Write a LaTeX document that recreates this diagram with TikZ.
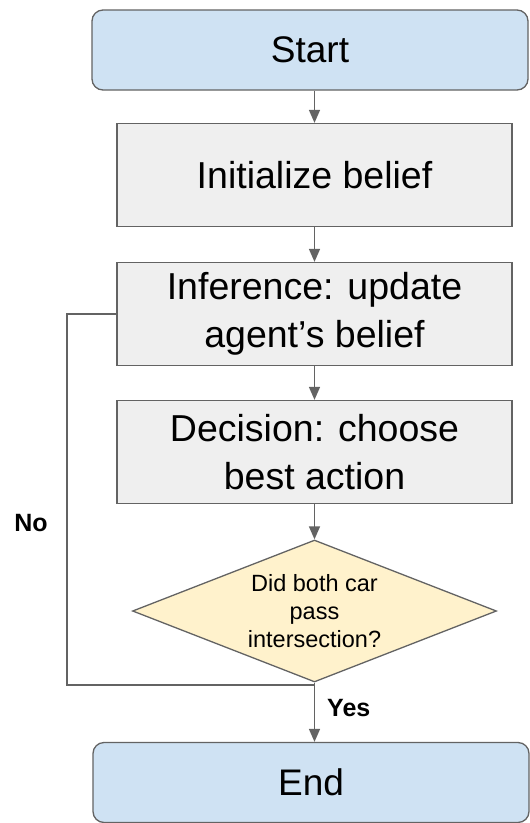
\documentclass[tikz,border=0pt]{standalone}
\usepackage{fontspec}
\setmainfont{Liberation Sans}
\usetikzlibrary{shapes.geometric,arrows.meta}
\definecolor{lineclr}{HTML}{636363}
\definecolor{termfill}{HTML}{CFE2F3}
\definecolor{procfill}{HTML}{EFEFEF}
\definecolor{decfill}{HTML}{FFF2CC}
\begin{document}
\begin{tikzpicture}[x=1pt,y=-1pt,
  base/.style={draw=lineclr, line width=1.3pt, align=center, inner sep=0pt},
  term/.style={base, fill=termfill, rounded corners=11pt, minimum width=436pt, minimum height=80pt,
     font=\fontsize{37}{46}\selectfont},
  proc/.style={base, fill=procfill, minimum width=395pt, minimum height=103pt,
     font=\fontsize{37.5}{47.5}\selectfont},
  dec/.style={base, fill=decfill, diamond, aspect=2.56, minimum width=364pt, minimum height=142pt,
     font=\fontsize{23.5}{28}\selectfont},
  conn/.style={draw=lineclr, line width=1.5pt},
  arr/.style={conn, -{Triangle[width=11pt,length=13pt]}},
  lbl/.style={font=\bfseries\fontsize{25}{28}\selectfont, inner sep=0pt}
]
\useasboundingbox (0,0) rectangle (530,823);
\node[term] (start) at (310,50) {Start};
\node[proc] (init) at (314.5,175) {Initialize belief};
\node[proc] (inf) at (314.5,314) {Inference: update\\agent’s belief};
\node[proc] (decn) at (314.5,452) {Decision: choose\\best action};
\node[dec] (dia) at (314.5,611) {Did both car\\pass\\intersection?};
\node[term] (endn) at (311,782.5) {End};
\node[lbl] (no) at (31,523) {No};
\node[lbl, anchor=west] (yes) at (327,708) {Yes};
\coordinate (lp) at (67,685);
\draw[arr] (init.north |- start.south) -- (init.north);
\draw[arr] (init.south) -- (inf.north);
\draw[arr] (inf.south) -- (decn.north);
\draw[arr] (decn.south) -- (dia.north);
\draw[arr] (dia.south) -- (endn.north -| dia.south);
\draw[conn] (dia.south) -- (dia.south |- lp) -- (lp) |- (inf.west);
\end{tikzpicture}
\end{document}
